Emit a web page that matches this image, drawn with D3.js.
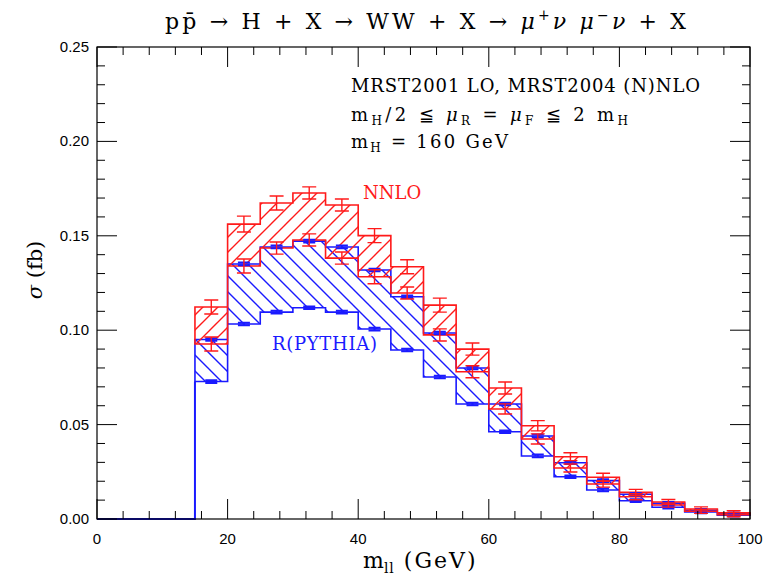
<!DOCTYPE html>
<html>
<head>
<meta charset="utf-8">
<script src="https://cdn.jsdelivr.net/npm/d3@7"></script>
<style>
  body { margin: 0; background: #fff; }
  svg { display: block; }
  .serif { font-family: "DejaVu Serif", "Liberation Serif", serif; }
  .it { font-style: italic; }
</style>
</head>
<body>
<div id="chart"></div>
<script>
// bin edges (GeV), 5 GeV wide from 15 to 100
var binLo = [15, 20, 25, 30, 35, 40, 45, 50, 55, 60, 65, 70, 75, 80, 85, 90, 95];

// NNLO band (red)
var nnloHi = [0.1123, 0.1562, 0.1674, 0.1727, 0.1663, 0.1501, 0.1336, 0.1133, 0.0900, 0.0694, 0.0494, 0.0330, 0.0221, 0.0141, 0.0090, 0.0053, 0.0033];
var nnloLo = [0.0927, 0.1340, 0.1435, 0.1478, 0.1382, 0.1283, 0.1197, 0.0975, 0.0780, 0.0583, 0.0424, 0.0270, 0.0185, 0.0118, 0.0074, 0.0041, 0.0023];
var nnloHiErr = [0.0037, 0.0042, 0.0037, 0.0032, 0.0032, 0.0037, 0.0037, 0.0037, 0.0032, 0.0032, 0.0027, 0.0021, 0.0021, 0.0016, 0.0013, 0.0011, 0.0011];
var nnloLoErr = [0.0037, 0.0037, 0.0032, 0.0032, 0.0032, 0.0037, 0.0032, 0.0032, 0.0032, 0.0027, 0.0027, 0.0021, 0.0016, 0.0016, 0.0011, 0.0011, 0.0011];

// R(PYTHIA) band (blue)
var pyHi = [0.0951, 0.1351, 0.1441, 0.1472, 0.1441, 0.1319, 0.1177, 0.0985, 0.0800, 0.0609, 0.0440, 0.0298, 0.0203, 0.0131, 0.0083, 0.0046, 0.0028];
var pyLo = [0.0728, 0.1033, 0.1096, 0.1119, 0.1096, 0.1006, 0.0895, 0.0752, 0.0609, 0.0462, 0.0334, 0.0224, 0.0154, 0.0097, 0.0062, 0.0037, 0.0020];
var pyErr = 0.0007;

var xTicks = [0, 20, 40, 60, 80, 100];
var yTicks = [0, 0.05, 0.10, 0.15, 0.20, 0.25];

var W = 764, H = 579;
var red = "#ff1a1a", blue = "#1a1aff";

var svg = d3.select("#chart").append("svg")
  .attr("width", W)
  .attr("height", H);

var x = d3.scaleLinear().domain([0, 100]).range([97, 750]);
var y = d3.scaleLinear().domain([0, 0.25]).range([519, 47]);

// hatch patterns
var defs = svg.append("defs");
defs.append("pattern")
  .attr("id", "hatchRed")
  .attr("patternUnits", "userSpaceOnUse")
  .attr("width", 15).attr("height", 15)
  .append("path")
  .attr("d", "M-1,16 L16,-1 M-4,4 L4,-4 M11,19 L19,11")
  .attr("stroke", red).attr("stroke-width", 1.4);
defs.append("pattern")
  .attr("id", "hatchBlue")
  .attr("patternUnits", "userSpaceOnUse")
  .attr("width", 16).attr("height", 16)
  .append("path")
  .attr("d", "M-1,-1 L17,17 M-4,12 L4,20 M12,-4 L20,4")
  .attr("stroke", blue).attr("stroke-width", 1.4);

function bandPoints(lo, hi) {
  var pts = binLo.map(function(b, i) {
    return { x: b, lo: lo[i], hi: hi[i] };
  });
  pts.push({ x: 100, lo: lo[lo.length - 1], hi: hi[hi.length - 1] });
  return pts;
}

var area = d3.area()
  .curve(d3.curveStepAfter)
  .x(function(d) { return x(d.x); })
  .y0(function(d) { return y(d.lo); })
  .y1(function(d) { return y(d.hi); });

// blue band
svg.append("path")
  .attr("d", area(bandPoints(pyLo, pyHi)) + "Z")
  .attr("fill", "url(#hatchBlue)")
  .attr("stroke", blue)
  .attr("stroke-width", 1.6);

// blue zero line below 15 GeV
svg.append("path")
  .attr("d", d3.line()([[x(0), y(0)], [x(15), y(0)], [x(15), y(pyLo[0])]]))
  .attr("fill", "none")
  .attr("stroke", blue)
  .attr("stroke-width", 2);

// red band
svg.append("path")
  .attr("d", area(bandPoints(nnloLo, nnloHi)) + "Z")
  .attr("fill", "url(#hatchRed)")
  .attr("stroke", red)
  .attr("stroke-width", 1.6);

// error bars
function errBars(vals, errs, color, cap, sw) {
  var g = svg.append("g").attr("stroke", color).attr("stroke-width", sw).attr("fill", "none");
  binLo.forEach(function(b, i) {
    var e = Array.isArray(errs) ? errs[i] : errs;
    var cx = x(b + 2.5);
    var y1 = y(vals[i] + e), y2 = y(vals[i] - e);
    g.append("path")
      .attr("d", "M" + cx + "," + y1 + "V" + y2 +
        "M" + (cx - cap) + "," + y1 + "H" + (cx + cap) +
        "M" + (cx - cap) + "," + y2 + "H" + (cx + cap));
  });
}
errBars(pyHi, pyErr, blue, 6, 2);
errBars(pyLo, pyErr, blue, 6, 2);
errBars(nnloHi, nnloHiErr, red, 7, 1.4);
errBars(nnloLo, nnloLoErr, red, 7, 1.4);

// frame
svg.append("rect")
  .attr("x", x(0)).attr("y", y(0.25))
  .attr("width", x(100) - x(0)).attr("height", y(0) - y(0.25))
  .attr("fill", "none").attr("stroke", "#000").attr("stroke-width", 1.2);

// ticks (inside the frame, on all four sides)
var tk = svg.append("g").attr("stroke", "#000").attr("stroke-width", 1);
d3.range(0, 101, 4).forEach(function(v) {
  var len = (v % 20 === 0) ? 20 : 8;
  tk.append("line").attr("x1", x(v)).attr("x2", x(v)).attr("y1", y(0)).attr("y2", y(0) - len);
  tk.append("line").attr("x1", x(v)).attr("x2", x(v)).attr("y1", y(0.25)).attr("y2", y(0.25) + len);
});
d3.range(0, 26, 1).forEach(function(k) {
  var v = k / 100;
  var len = (k % 5 === 0) ? 20 : 8;
  tk.append("line").attr("x1", x(0)).attr("x2", x(0) + len).attr("y1", y(v)).attr("y2", y(v));
  tk.append("line").attr("x1", x(100)).attr("x2", x(100) - len).attr("y1", y(v)).attr("y2", y(v));
});

// tick labels
svg.append("g").selectAll("text").data(yTicks).enter().append("text")
  .attr("x", x(0) - 8)
  .attr("y", function(d) { return y(d) + 5; })
  .attr("text-anchor", "end")
  .attr("font-family", "Liberation Sans, Arial, sans-serif")
  .attr("font-size", 15)
  .text(function(d) { return d.toFixed(2); });

svg.append("g").selectAll("text").data(xTicks).enter().append("text")
  .attr("x", function(d) { return x(d); })
  .attr("y", 544)
  .attr("text-anchor", "middle")
  .attr("font-family", "Liberation Sans, Arial, sans-serif")
  .attr("font-size", 15)
  .text(function(d) { return d; });

// title
var title = svg.append("text").attr("class", "serif")
  .attr("x", 165).attr("y", 29)
  .attr("font-size", 22)
  .attr("textLength", 521)
  .attr("lengthAdjust", "spacing");
title.append("tspan").text("pp\u0304 \u2192 H + X \u2192 WW + X \u2192 ");
title.append("tspan").attr("class", "it").text("\u03bc");
title.append("tspan").attr("dy", -9).attr("font-size", 14).text("+");
title.append("tspan").attr("dy", 9).attr("class", "it").text("\u03bd \u03bc");
title.append("tspan").attr("dy", -9).attr("font-size", 14).text("\u2212");
title.append("tspan").attr("dy", 9).attr("class", "it").text("\u03bd");
title.append("tspan").text(" + X");

// axis labels
var xl = svg.append("text").attr("class", "serif")
  .attr("x", 363).attr("y", 568)
  .attr("font-size", 22);
xl.append("tspan").text("m");
xl.append("tspan").attr("dy", 5).attr("font-size", 14).attr("letter-spacing", 1).text("ll");
xl.append("tspan").attr("dy", -5).attr("letter-spacing", 2).text(" (GeV)");

svg.append("text").attr("class", "serif")
  .attr("transform", "translate(42,270) rotate(-90)")
  .attr("text-anchor", "middle")
  .attr("font-size", 21)
  .html('<tspan class="it">\u03c3</tspan> (fb)');

// annotations
var ann = svg.append("g").attr("class", "serif").attr("font-size", 18);
ann.append("text").attr("x", 351).attr("y", 92)
  .attr("textLength", 349).attr("lengthAdjust", "spacing")
  .text("MRST2001 LO, MRST2004 (N)NLO");
var l2 = ann.append("text").attr("x", 351).attr("y", 121)
  .attr("textLength", 277).attr("lengthAdjust", "spacing");
l2.append("tspan").text("m");
l2.append("tspan").attr("dy", 4).attr("font-size", 12).text("H");
l2.append("tspan").attr("dy", -4).text("/2 \u2266 ");
l2.append("tspan").attr("class", "it").text("\u03bc");
l2.append("tspan").attr("dy", 4).attr("font-size", 12).text("R");
l2.append("tspan").attr("dy", -4).text(" = ");
l2.append("tspan").attr("class", "it").text("\u03bc");
l2.append("tspan").attr("dy", 4).attr("font-size", 12).text("F");
l2.append("tspan").attr("dy", -4).text(" \u2266 2 m");
l2.append("tspan").attr("dy", 4).attr("font-size", 12).text("H");
var l3 = ann.append("text").attr("x", 351).attr("y", 148)
  .attr("textLength", 157).attr("lengthAdjust", "spacing");
l3.append("tspan").text("m");
l3.append("tspan").attr("dy", 4).attr("font-size", 12).text("H");
l3.append("tspan").attr("dy", -4).text(" = 160 GeV");

svg.append("text").attr("class", "serif")
  .attr("x", 363).attr("y", 199)
  .attr("font-size", 18)
  .attr("fill", red)
  .text("NNLO");
svg.append("text").attr("class", "serif")
  .attr("x", 272).attr("y", 350)
  .attr("font-size", 18)
  .attr("textLength", 105)
  .attr("fill", blue)
  .text("R(PYTHIA)");
</script>
</body>
</html>
